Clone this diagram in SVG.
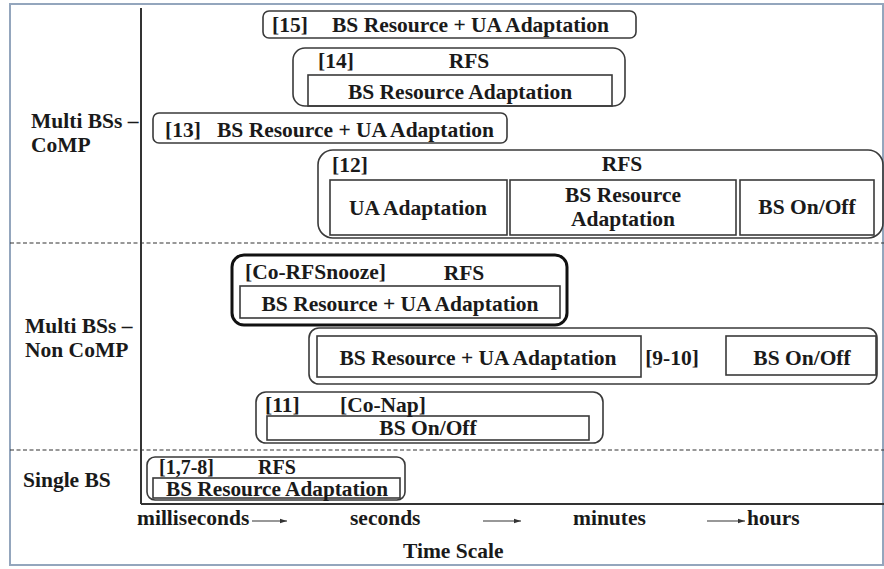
<svg xmlns="http://www.w3.org/2000/svg" width="884" height="569" viewBox="0 0 884 569">
<defs>
<style>
text{font-family:"Liberation Serif","Times New Roman",serif;font-weight:bold;font-size:21.5px;fill:#1a1a1a}
.m{text-anchor:middle}
.s{font-size:20px}
.box{fill:none;stroke:#3a3a3a;stroke-width:1.6}
.thick{fill:none;stroke:#111;stroke-width:3}
.dash{stroke:#333;stroke-width:1.2;stroke-dasharray:4 2.5}
.axis{stroke:#333;stroke-width:2;fill:none}
.arr{stroke:#333;stroke-width:1.2;fill:none;marker-end:url(#ah)}
</style>
<marker id="ah" markerWidth="8" markerHeight="6" refX="7" refY="3" orient="auto" markerUnits="userSpaceOnUse">
<path d="M0,0.8 L7,3 L0,5.2 z" fill="#333"/>
</marker>
</defs>
<rect x="0" y="0" width="884" height="569" fill="#fff"/>
<rect x="10" y="4" width="873" height="561" fill="none" stroke="#94a6bd" stroke-width="2"/>

<g id="axes">
<line class="axis" x1="141" y1="8" x2="141" y2="504"/>
<line class="axis" x1="141" y1="504" x2="884" y2="504"/>
<line class="dash" x1="10" y1="243" x2="884" y2="243"/>
<line class="dash" x1="10" y1="450" x2="884" y2="450"/>
</g>

<g id="row-labels">
<text x="31" y="128">Multi BSs –</text>
<text x="31" y="152">CoMP</text>
<text x="25" y="333">Multi BSs –</text>
<text x="25" y="357">Non CoMP</text>
<text x="23" y="487">Single BS</text>
</g>

<g id="n15">
<rect class="box" x="263" y="11" width="373" height="27" rx="6"/>
<text x="272" y="32">[15]</text>
<text x="332" y="32">BS Resource + UA Adaptation</text>
</g>

<g id="n14">
<rect class="box" x="293" y="48" width="332" height="58" rx="12"/>
<rect class="box" x="308" y="75" width="304" height="31"/>
<text x="318" y="68">[14]</text>
<text class="m" x="469" y="68">RFS</text>
<text class="m" x="460" y="99">BS Resource Adaptation</text>
</g>

<g id="n13">
<rect class="box" x="153" y="113" width="354" height="30" rx="6"/>
<text x="165" y="137">[13]</text>
<text x="217" y="137">BS Resource + UA Adaptation</text>
</g>

<g id="n12">
<rect class="box" x="318" y="150" width="565" height="88" rx="15"/>
<rect class="box" x="330" y="180" width="177" height="55"/>
<rect class="box" x="510" y="180" width="226" height="55"/>
<rect class="box" x="740" y="180" width="134" height="55"/>
<text x="332" y="172">[12]</text>
<text class="m" x="622" y="171">RFS</text>
<text class="m" x="418" y="215">UA Adaptation</text>
<text class="m" x="623" y="202">BS Resource</text>
<text class="m" x="623" y="226">Adaptation</text>
<text class="m" x="807" y="214">BS On/Off</text>
</g>

<g id="co-rfsnooze">
<rect class="thick" x="232" y="255" width="335" height="70" rx="12"/>
<rect class="box" x="240" y="286" width="320" height="32"/>
<text x="245" y="279">[Co-RFSnooze]</text>
<text class="m" x="464" y="280">RFS</text>
<text class="m" x="400" y="311">BS Resource + UA Adaptation</text>
</g>

<g id="n9-10">
<rect class="box" x="309" y="328" width="568" height="56" rx="10"/>
<rect class="box" x="317" y="336" width="324" height="41"/>
<rect class="box" x="726" y="336" width="150" height="39"/>
<text class="m" x="478" y="365">BS Resource + UA Adaptation</text>
<text class="m" x="672" y="365">[9-10]</text>
<text class="m" x="802" y="365">BS On/Off</text>
</g>

<g id="n11">
<rect class="box" x="256" y="392" width="347" height="51" rx="10"/>
<rect class="box" x="267" y="416" width="322" height="24"/>
<text x="265" y="412">[11]</text>
<text x="340" y="412">[Co-Nap]</text>
<text class="m" x="428" y="435">BS On/Off</text>
</g>

<g id="n1-7-8">
<rect class="box" x="147" y="457" width="258" height="43" rx="8"/>
<rect class="box" x="153" y="478" width="247" height="20"/>
<text class="s" x="159" y="474">[1,7-8]</text>
<text class="s" x="258" y="474">RFS</text>
<text class="s" x="166" y="496" textLength="222" lengthAdjust="spacingAndGlyphs">BS Resource Adaptation</text>
</g>

<g id="connectors">
<line class="arr" x1="252" y1="521" x2="287" y2="521"/>
<line class="arr" x1="483" y1="521" x2="521" y2="521"/>
<line class="arr" x1="707" y1="521" x2="745" y2="521"/>
</g>

<g id="time-scale">
<text x="137" y="525">milliseconds</text>
<text x="350" y="525">seconds</text>
<text x="573" y="525">minutes</text>
<text x="747" y="525">hours</text>
<text x="403" y="558">Time Scale</text>
</g>
</svg>
